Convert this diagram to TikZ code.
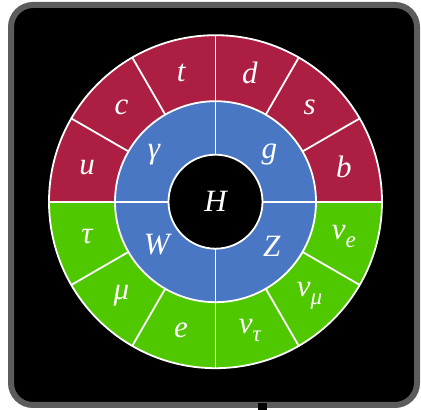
\documentclass[tikz,border=0pt]{standalone}
\usepackage{fontspec}
\setmainfont{Liberation Serif}
\usetikzlibrary{calc}
\definecolor{qred}{HTML}{AD1F42}
\definecolor{bblue}{HTML}{4A77C4}
\definecolor{lgreen}{HTML}{50C800}
\definecolor{frame}{HTML}{5C5C5C}
\newcommand{\sbs}[1]{\raisebox{-8pt}{\fontsize{23}{25}\selectfont #1}}
\begin{document}
\begin{tikzpicture}[x=1pt,y=1pt,
  lbl/.style={text=white,font=\fontsize{31}{33}\selectfont\itshape,inner sep=0pt},
  sep/.style={draw=white,line width=1.8pt}]
\useasboundingbox (0,0) rectangle (421,410);
% frame
\draw[frame,line width=6pt,fill=black,rounded corners=22pt] (11,5) rectangle (417,405);
\fill[black] (258,0) rectangle (267,7);
\coordinate (o) at (215.5,208.3);
% rings
\fill[lgreen] (o) circle (166.5);
\fill[qred] (o) ++(166.5,0) arc (0:180:166.5) -- cycle;
\fill[bblue] (o) circle (100.5);
\fill[black] (o) circle (47);
% separators
\foreach \a in {30,60,120,150,210,240,300,330}
  \draw[sep] ($(o)+(\a:100.5)$) -- ($(o)+(\a:166.5)$);
\foreach \a in {0,90,180,270}
  \draw[sep] ($(o)+(\a:47)$) -- ($(o)+(\a:166.5)$);
\draw[sep] (o) circle (166.5);
\draw[sep] (o) circle (100.5);
\draw[sep] (o) circle (47);
% labels
\node[lbl] (H) at (o) {H};
\node[lbl] (gam) at (154,255) {γ};
\node[lbl] (g) at (269.3,255) {g};
\node[lbl] (W) at (156.7,165) {W};
\node[lbl] (Z) at (271.7,164) {Z};
\node[lbl] (u) at ($(o)+(165:133)$) {u};
\node[lbl] (c) at ($(o)+(135:133)$) {c};
\node[lbl] (t) at ($(o)+(105:133)$) {t};
\node[lbl] (d) at ($(o)+(75:133)$) {d};
\node[lbl] (s) at ($(o)+(45:133)$) {s};
\node[lbl] (b) at ($(o)+(15:133)$) {b};
\node[lbl] (tau) at ($(o)+(195:133)$) {τ};
\node[lbl] (mu) at ($(o)+(225:133)$) {μ};
\node[lbl] (e) at ($(o)+(255:133)$) {e};
\node[lbl] (nt) at ($(o)+(285:133)$) {ν\sbs{τ}};
\node[lbl] (nm) at ($(o)+(315:133)$) {ν\sbs{μ}};
\node[lbl] (ne) at ($(o)+(345:133)$) {ν\sbs{e}};
\end{tikzpicture}
\end{document}
